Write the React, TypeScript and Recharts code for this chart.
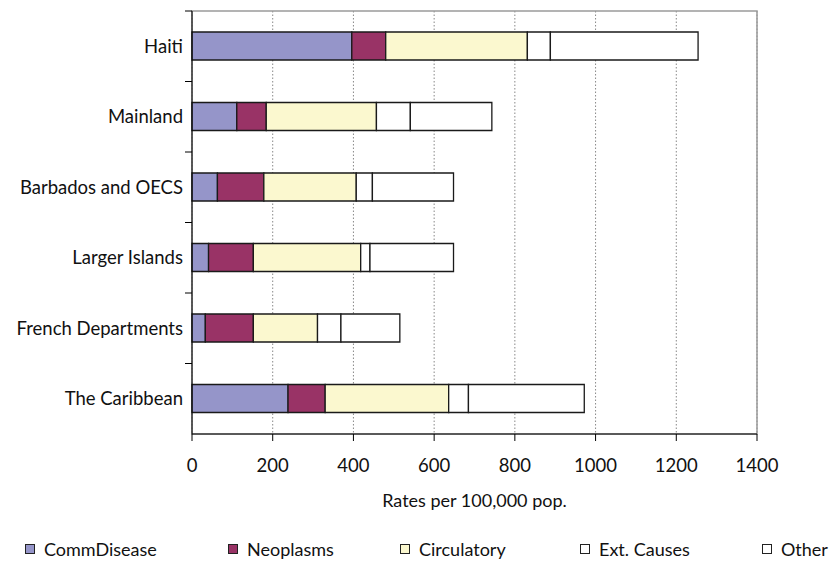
import { Bar, BarChart, CartesianGrid, Label, ReferenceArea, XAxis, YAxis } from "recharts";

const regions = ["Haiti", "Mainland", "Barbados and OECS", "Larger Islands", "French Departments", "The Caribbean"];
const commDisease = [396, 111, 63, 41, 33, 238];
const neoplasms = [84, 73, 115, 111, 119, 92];
const circulatory = [351, 273, 229, 266, 159, 306];
const extCauses = [57, 84, 40, 23, 58, 49];
const other = [366, 202, 201, 207, 146, 287];
const xTicks = [0, 200, 400, 600, 800, 1000, 1200, 1400];

const series = [
  { key: "CommDisease", values: commDisease, fill: "#9595c9" },
  { key: "Neoplasms", values: neoplasms, fill: "#993366" },
  { key: "Circulatory", values: circulatory, fill: "#fbf8cf" },
  { key: "Ext. Causes", values: extCauses, fill: "#ffffff" },
  { key: "Other", values: other, fill: "#ffffff" },
];

const data = regions.map((region, i) => {
  const row: Record<string, string | number> = { region };
  series.forEach((s) => (row[s.key] = s.values[i]));
  return row;
});

const FONT = "Lato, 'Open Sans', sans-serif";
const TOP = 11;
const AXIS_X = 192;
const AXIS_Y = 434;
const band = (AXIS_Y - TOP) / regions.length;
const legendLeft = [25, 228, 400, 580, 762];

function CategoryTick(props: any) {
  const { y, payload } = props;
  return (
    <g>
      <line x1={AXIS_X - 7} x2={AXIS_X} y1={y - band / 2} y2={y - band / 2} stroke="#000" />
      <text x={AXIS_X - 9} y={y} dy="0.36em" textAnchor="end" fontSize={18.5} fill="#111" fontFamily={FONT}>
        {payload.value}
      </text>
    </g>
  );
}

export default function App() {
  return (
    <div style={{ position: "fixed", left: 0, top: 0, width: 830, height: 563, background: "#fff" }}>
      <BarChart
        width={830}
        height={563}
        data={data}
        layout="vertical"
        barSize={28}
        margin={{ top: TOP, right: 73, left: 0, bottom: 0 }}
      >
        <CartesianGrid horizontal={false} stroke="#888" strokeDasharray="1.5 2" />
        <ReferenceArea x1={0} x2={1400} fill="none" stroke="#9a9a9a" strokeWidth={1.5} />
        <XAxis
          type="number"
          domain={[0, 1400]}
          ticks={xTicks}
          height={563 - AXIS_Y}
          tickSize={7}
          tickMargin={18}
          stroke="#000"
          tick={{ fill: "#111", fontSize: 18.5, fontFamily: FONT }}
        >
          <Label
            value="Rates per 100,000 pop."
            position="insideTop"
            offset={60}
            style={{ fill: "#111", fontSize: 18, fontFamily: FONT }}
          />
        </XAxis>
        <YAxis type="category" dataKey="region" width={AXIS_X} stroke="#000" tickLine={false} tick={<CategoryTick />} interval={0} />
        {series.map((s) => (
          <Bar key={s.key} dataKey={s.key} stackId="a" fill={s.fill} stroke="#1a1a1a" strokeWidth={1.3} isAnimationActive={false} />
        ))}
      </BarChart>
      {series.map((s, i) => (
        <div
          key={s.key}
          style={{
            position: "absolute",
            top: 538,
            left: legendLeft[i],
            display: "flex",
            alignItems: "center",
            fontFamily: FONT,
            fontSize: 18,
            color: "#111",
            whiteSpace: "nowrap",
            lineHeight: "22px",
          }}
        >
          <span
            style={{
              width: 8,
              height: 8,
              border: "1px solid #222",
              background: s.fill,
              marginRight: 9,
              display: "inline-block",
            }}
          />
          {s.key}
        </div>
      ))}
    </div>
  );
}
